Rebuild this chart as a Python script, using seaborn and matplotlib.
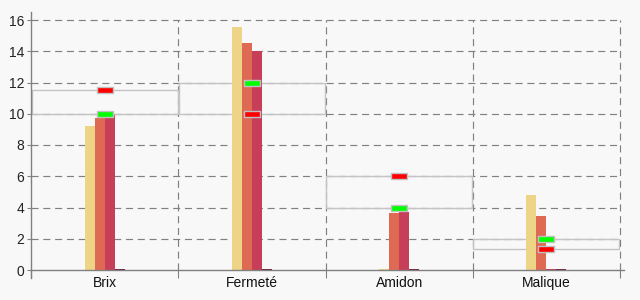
import matplotlib
matplotlib.use("Agg")
import matplotlib.pyplot as plt
import seaborn as sns
import pandas as pd
import numpy as np
from matplotlib.path import Path

categories = ["Brix", "Fermeté", "Amidon", "Malique"]
series_names = ["S1", "S2", "S3", "S4"]
s1_values = [9.22, 15.55, 0.05, 4.8]
s2_values = [9.73, 14.53, 3.65, 3.46]
s3_values = [9.92, 14.02, 3.71, 0.05]
s4_values = [0.05, 0.05, 0.05, 0.05]
green_values = [10.0, 12.0, 4.0, 2.0]
red_values = [11.5, 10.0, 6.0, 1.32]
y_ticks = [0, 2, 4, 6, 8, 10, 12, 14, 16]

colors = ["#EED486", "#DE6A54", "#C63E57", "#6E1E3E"]
bg = "#f8f8f8"
gray = "#808080"

rows = []
for name, vals in zip(series_names, [s1_values, s2_values, s3_values, s4_values]):
    for c, v in zip(categories, vals):
        rows.append({"cat": c, "serie": name, "val": v})
df = pd.DataFrame(rows)

sns.set_theme(style="white")
plt.rcParams["font.family"] = ["Liberation Sans", "DejaVu Sans"]

fig = plt.figure(figsize=(6.4, 3.0), dpi=100, facecolor=bg)
ax = fig.add_axes([31/640, 30/300, 589/640, 250/300])
ax.set_facecolor(bg)

x = np.arange(len(categories))
lo = np.minimum(green_values, red_values)
hi = np.maximum(green_values, red_values)
ax.bar(x, hi - lo, bottom=lo, width=0.99, fill=False, edgecolor="#c4c4c4",
       linewidth=1.0, zorder=1)

sns.barplot(data=df, x="cat", y="val", hue="serie", palette=colors,
            width=0.27, saturation=1, linewidth=0, legend=False, ax=ax, zorder=2)

rect = Path([(-1.6, -0.5), (1.6, -0.5), (1.6, 0.5), (-1.6, 0.5), (-1.6, -0.5)],
            [Path.MOVETO, Path.LINETO, Path.LINETO, Path.LINETO, Path.CLOSEPOLY])
ax.scatter(x, green_values, marker=rect, s=140, c="#00ff00", edgecolors="#c0c0c0",
           linewidths=1.0, zorder=5)
ax.scatter(x, red_values, marker=rect, s=140, c="#ff0000", edgecolors="#c0c0c0",
           linewidths=1.0, zorder=5)

ax.set_xlim(-0.5, len(categories) - 0.5)
ax.set_ylim(0, 16)
ax.set_yticks(y_ticks)
ax.set_yticklabels([str(t) for t in y_ticks])
ax.set_xticks(x)
ax.set_xticklabels(categories)
ax.set_xticks(np.arange(len(categories) + 1) - 0.5, minor=True)
ax.set_xlabel("")
ax.set_ylabel("")

for v in y_ticks[1:]:
    ax.axhline(v, color=gray, linestyle=(0, (6, 4)), linewidth=0.85, zorder=0.5, clip_on=False)
for b in np.arange(1, len(categories) + 1) - 0.5:
    ax.axvline(b, color=gray, linestyle=(0, (6, 4)), linewidth=0.85, zorder=0.5, clip_on=False)

for s in ["top", "right"]:
    ax.spines[s].set_visible(False)
for s in ["left", "bottom"]:
    ax.spines[s].set_color(gray)
    ax.spines[s].set_linewidth(1.0)
ax.spines["left"].set_bounds(-0.5, 16.5)
ax.spines["bottom"].set_bounds(-0.5, 3.53)

ax.tick_params(axis="y", which="major", length=3, width=0.8, color=gray,
               labelsize=10, labelcolor="#222222", pad=2, left=True)
ax.tick_params(axis="x", which="major", length=0, labelsize=10, labelcolor="#111111", pad=4)
ax.tick_params(axis="x", which="minor", length=6, width=0.8, color=gray, bottom=True)

fig.savefig("out.png", dpi=100, facecolor=bg)
